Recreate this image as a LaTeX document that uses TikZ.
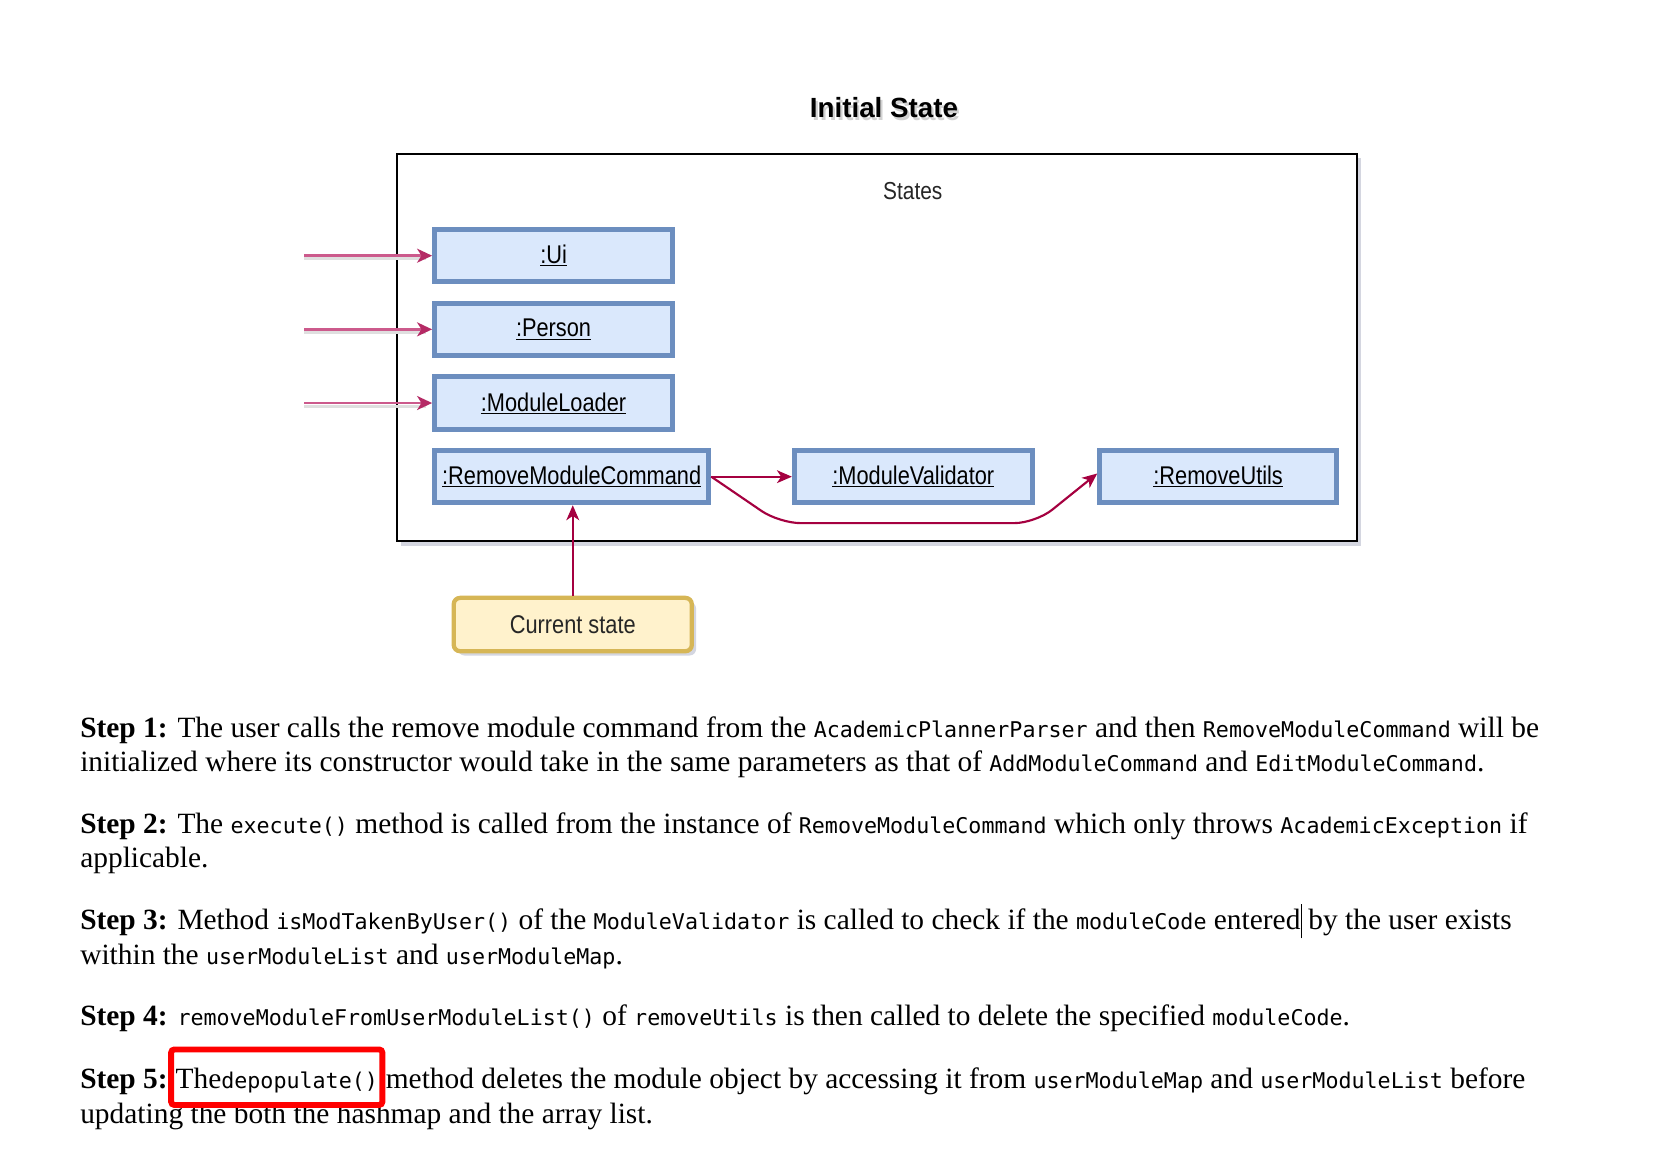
\documentclass[tikz,border=0pt]{standalone}
\usepackage{fontspec}
\setmainfont{Liberation Serif}
\newfontfamily\diagfont[FakeStretch=0.85]{Liberation Sans}
\newfontfamily\titlefont{Liberation Sans}
\newfontfamily\codefont{DejaVu Sans Mono}
\usetikzlibrary{arrows.meta,shadows}
\definecolor{boxfill}{HTML}{DAE8FC}
\definecolor{boxline}{HTML}{6C8EBF}
\definecolor{curfill}{HTML}{FFF2CC}
\definecolor{curline}{HTML}{D6B656}
\definecolor{crimson}{HTML}{A50040}
\definecolor{pinkarrow}{HTML}{CC5A8C}
\definecolor{pinktip}{HTML}{B52A65}
\definecolor{shade}{HTML}{C9CCD8}
\newcommand\mycode[1]{{\codefont\fontsize{20.3}{24}\selectfont #1}}
\begin{document}
\begin{tikzpicture}[x=1pt,y=-1pt,
  objbox/.style={draw=boxline, fill=boxfill, line width=4.5pt, minimum height=49pt,
    inner sep=0pt, font=\diagfont\fontsize{24}{28}\selectfont},
  curbox/.style={draw=curline, fill=curfill, line width=4pt, rounded corners=6pt,
    minimum width=223pt, minimum height=50pt, inner sep=0pt,
    font=\diagfont\fontsize{24}{28}\selectfont, text=black!85,
    drop shadow={shadow xshift=4pt, shadow yshift=-4pt, fill=shade, opacity=.8}},
  frame/.style={draw=black, line width=1.5pt, fill=white, minimum width=899pt,
    minimum height=363pt, inner sep=0pt,
    drop shadow={shadow xshift=4pt, shadow yshift=-4pt, fill=shade, opacity=.8}},
  inarrow/.style={draw=pinkarrow, line width=2.5pt, -{Stealth[length=14pt,width=13pt,inset=4pt,color=pinktip]}},
  inshadow/.style={draw=gray!25, line width=3pt},
  darkarrow/.style={draw=crimson, line width=2pt, -{Stealth[length=14pt,width=12pt,inset=4pt]}},
  txt/.style={anchor=base west, inner sep=0pt, font=\fontsize{27.55}{32}\selectfont},
  redbox/.style={draw=red, line width=5.5pt, rounded corners=3pt}
]
\useasboundingbox (0,0) rectangle (1568,1091);

% title with soft shadow
\node[font=\titlefont\bfseries\fontsize{26}{30}\selectfont, text=gray!35] (titleshade) at (830,104) {Initial State};
\node[font=\titlefont\bfseries\fontsize{26}{30}\selectfont] (title) at (828,101) {Initial State};

% frame
\node[frame] (states) at (821.5,325.5) {};
\node[font=\diagfont\fontsize{23}{27}\selectfont, text=black!85] (stateslbl) at (855,179) {States};

% objects
\node[objbox, minimum width=223pt] (ui) at (518.5,239.5) {\underline{:Ui}};
\node[objbox, minimum width=223pt] (person) at (518.5,308.5) {\underline{:Person}};
\node[objbox, minimum width=223pt] (loader) at (518.5,377.5) {\underline{:ModuleLoader}};
\node[objbox, minimum width=257pt] (rmc) at (535.5,446.5) {\underline{:RemoveModuleCommand}};
\node[objbox, minimum width=223pt] (mv) at (855.5,446.5) {\underline{:ModuleValidator}};
\node[objbox, minimum width=222pt] (ru) at (1141,446.5) {\underline{:RemoveUtils}};

\node[curbox] (cur) at (536.5,585) {Current state};

% incoming arrows
\coordinate (inui) at (285,239.5);
\coordinate (inperson) at (285,308.5);
\coordinate (inloader) at (285,377.5);
\draw[inshadow] ([yshift=-3pt]inui) -- ([yshift=-3pt,xshift=-6pt]ui.west);
\draw[inshadow] ([yshift=-3pt]inperson) -- ([yshift=-3pt,xshift=-6pt]person.west);
\draw[inshadow] ([yshift=-3pt]inloader) -- ([yshift=-3pt,xshift=-6pt]loader.west);
\draw[inarrow] (inui) -- (ui.west);
\draw[inarrow] (inperson) -- (person.west);
\draw[inarrow] (inloader) -- (loader.west);

% connectors
\draw[darkarrow] (rmc.east) -- (mv.west);
\draw[darkarrow, rounded corners=20pt] (rmc.east) -- (730,490) -- (970,490) -- ([yshift=3pt]ru.west);
\draw[darkarrow] (cur.north) -- (cur.north |- rmc.south);

% text
\node[txt] (p1a) at (75,691) {\textbf{Step 1:} The user calls the remove module command from the \mycode{AcademicPlannerParser} and then \mycode{RemoveModuleCommand} will be};
\node[txt] (p1b) at (75,723) {initialized where its constructor would take in the same parameters as that of \mycode{AddModuleCommand} and \mycode{EditModuleCommand}.};
\node[txt] (p2a) at (75,781) {\textbf{Step 2:} The \mycode{execute()} method is called from the instance of \mycode{RemoveModuleCommand} which only throws \mycode{AcademicException} if};
\node[txt] (p2b) at (75,813) {applicable.};
\node[txt] (p3a) at (75,871) {\textbf{Step 3:} Method \mycode{isModTakenByUser()} of the \mycode{ModuleValidator} is called to check if the \mycode{moduleCode} entered};
\node[txt] (p3c) at ([xshift=7pt]p3a.base east) {by the user exists};
\draw[line width=1pt] ([xshift=1pt,yshift=-8pt]p3a.base east) -- ([xshift=1pt,yshift=24pt]p3a.base east);
\node[txt] (p3b) at (75,903) {within the \mycode{userModuleList} and \mycode{userModuleMap}.};
\node[txt] (p4) at (75,961) {\textbf{Step 4:} \mycode{removeModuleFromUserModuleList()} of \mycode{removeUtils} is then called to delete the specified \mycode{moduleCode}.};
\node[txt] (p5a) at (75,1020) {\textbf{Step 5:}};
\node[txt] (p5b) at ([xshift=7pt]p5a.base east) {The\mycode{depopulate()}};
\node[txt] (p5c) at ([xshift=7pt]p5b.base east) {method deletes the module object by accessing it from \mycode{userModuleMap} and \mycode{userModuleList} before};
\node[txt] (p5d) at (75,1052) {updating the both the hashmap and the array list.};

\coordinate (rtop) at (0,983);
\coordinate (rbot) at (0,1035);
\draw[redbox] ([xshift=-4pt]p5b.west |- rtop) rectangle ([xshift=4pt]p5b.east |- rbot);
\end{tikzpicture}
\end{document}
